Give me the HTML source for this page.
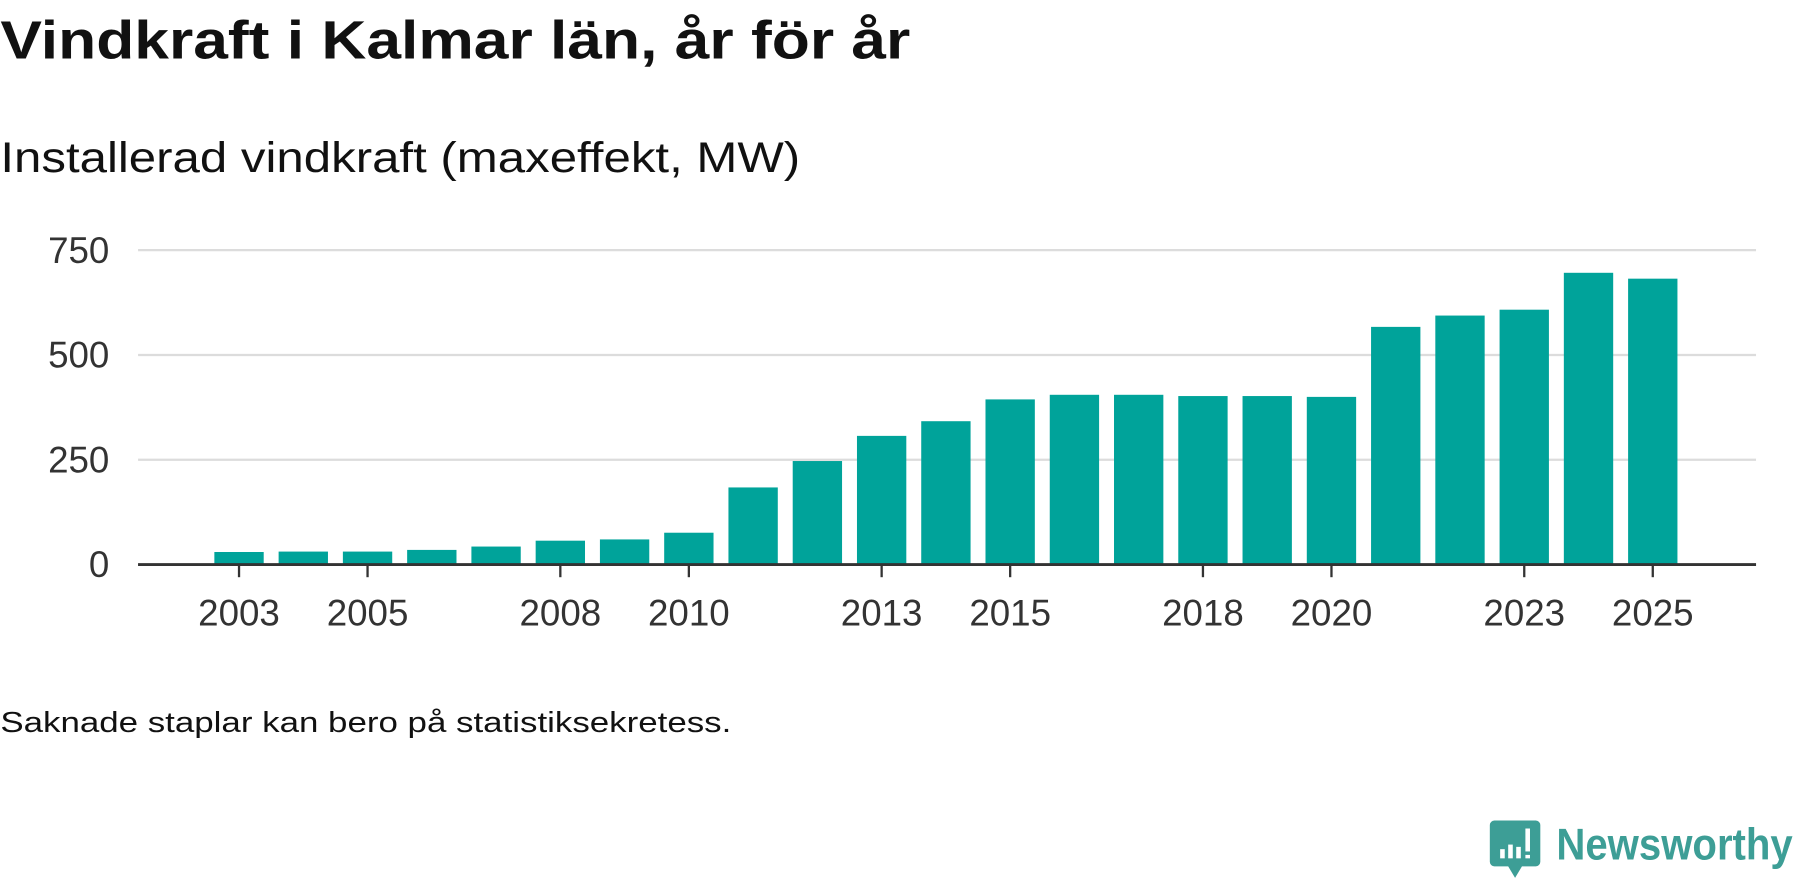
<!DOCTYPE html>
<html><head><meta charset="utf-8"><style>
html,body{margin:0;padding:0;background:#fff;width:1800px;height:879px;overflow:hidden}
text{font-family:"Liberation Sans",sans-serif}
</style></head><body>
<svg id="chart" width="1800" height="879" viewBox="0 0 1568 766" xmlns="http://www.w3.org/2000/svg">
<text x="0" y="51" font-size="47" font-weight="bold" fill="#111" textLength="793" lengthAdjust="spacingAndGlyphs">Vindkraft i Kalmar län, år för år</text>
<text x="0" y="150" font-size="37" fill="#111" textLength="697" lengthAdjust="spacingAndGlyphs">Installerad vindkraft (maxeffekt, MW)</text>
<g id="grid"></g>
<g id="bars"></g>
<g id="xaxis"></g>
<text x="0" y="638" font-size="25" fill="#111" textLength="637" lengthAdjust="spacingAndGlyphs">Saknade staplar kan bero på statistiksekretess.</text>
<g>
<path d="M1302 715 h36 a4 4 0 0 1 4 4 v32 a4 4 0 0 1 -4 4 h-12 l-6 10 l-6 -10 h-12 a4 4 0 0 1 -4 -4 v-32 a4 4 0 0 1 4 -4z" fill="#3d9e96"/>
<rect x="1307" y="740" width="4" height="8" fill="#fff"/><rect x="1314" y="736" width="4" height="12" fill="#fff"/><rect x="1321" y="738" width="4" height="10" fill="#fff"/><rect x="1329" y="722" width="4" height="20" fill="#fff"/><rect x="1329" y="745" width="4" height="3" fill="#fff"/>
<text x="1356" y="749" font-size="39" font-weight="bold" fill="#3d9e96" textLength="206" lengthAdjust="spacingAndGlyphs">Newsworthy</text>
</g>
</svg>
<script>
const years=[2003,2004,2005,2006,2007,2008,2009,2010,2011,2012,2013,2014,2015,2016,2017,2018,2019,2020,2021,2022,2023,2024,2025];
const values=[30,31,31,35,43,57,60,76,184,247,307,342,394,405,405,402,402,400,567,594,608,696,682];
const yTicks=[0,250,500,750];
const xTickLabels=[2003,2005,2008,2010,2013,2015,2018,2020,2023,2025];
const NS="http://www.w3.org/2000/svg";
const y0=492,pxPer=(492-218)/750;
function y(v){return y0-v*pxPer;}
function x(yr){return 208+(yr-2003)*56.0;}
const bw=43;
function mk(t,a,p){const e=document.createElementNS(NS,t);for(const k in a)e.setAttribute(k,a[k]);p.appendChild(e);return e;}
const grid=document.getElementById('grid'),bars=document.getElementById('bars'),xa=document.getElementById('xaxis');
yTicks.forEach(v=>{
 if(v>0){const l=mk('line',{x1:120,x2:1530,y1:y(v),y2:y(v),stroke:'#dcdcdc','stroke-width':2},grid);
 
 }
 const t=mk('text',{x:95,y:y(v)+11,'font-size':32,fill:'#333','text-anchor':'end'},grid);
 t.textContent=v;
 
 
});
years.forEach((yr,i)=>{
 const r=mk('rect',{x:x(yr)-bw/2,y:y(values[i]),width:bw,height:y0-y(values[i]),fill:'#00a39a'},bars);
 
 
});
const ax=mk('line',{x1:120,x2:1530,y1:y0,y2:y0,stroke:'#333','stroke-width':2.5},xa);


xTickLabels.forEach(yr=>{
 const tk=mk('line',{x1:x(yr),x2:x(yr),y1:y0,y2:y0+11,stroke:'#333','stroke-width':2},xa);
 
 
 const t=mk('text',{x:x(yr),y:545,'font-size':32,fill:'#333','text-anchor':'middle'},xa);
 t.textContent=yr;
 
 
});
</script>
</body></html>
